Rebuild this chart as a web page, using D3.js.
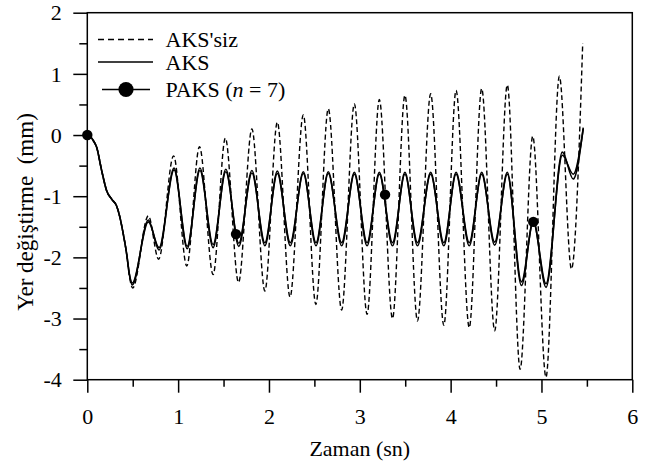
<!DOCTYPE html>
<html><head><meta charset="utf-8">
<script src="https://cdn.jsdelivr.net/npm/d3@7/dist/d3.min.js"></script>
<style>
body{margin:0;background:#fff}
svg{display:block}
</style>
</head><body>
<svg id="chart" width="656" height="462"></svg>
<script>
// ---- data (time in s, displacement in mm) ----
const aksizT = [0,0.03,0.066,0.103,0.158,0.213,0.269,0.323,0.36,0.39,0.434,0.463,0.50,0.672,0.785,0.95,1.095,1.235,1.385,1.52,1.665,1.812,1.955,2.092,2.232,2.378,2.516,2.653,2.80,2.94,3.08,3.215,3.36,3.497,3.635,3.78,3.925,4.06,4.205,4.342,4.485,4.624,4.765,4.904,5.05,5.197,5.33,5.454];
const aksizV = [0,-0.02,-0.09,-0.2,-0.58,-0.91,-1.05,-1.16,-1.35,-1.57,-1.95,-2.30,-2.50,-1.32,-2.03,-0.34,-2.14,-0.19,-2.28,-0.05,-2.41,0.10,-2.55,0.21,-2.65,0.33,-2.77,0.43,-2.86,0.51,-2.93,0.58,-3.0,0.65,-3.04,0.675,-3.11,0.73,-3.15,0.76,-3.20,0.82,-3.83,-0.02,-3.96,0.96,-2.19,1.50];

const aksT = [0,0.03,0.066,0.103,0.158,0.213,0.269,0.323,0.36,0.39,0.434,0.463,0.495,0.672,0.79,0.955,1.10,1.24,1.385,1.525,1.668,1.812,1.955,2.092,2.235,2.378,2.518,2.653,2.80,2.94,3.08,3.215,3.36,3.497,3.635,3.78,3.925,4.06,4.205,4.342,4.485,4.624,4.78,4.91,5.05,5.23,5.35,5.46];
const aksV = [0,-0.02,-0.09,-0.2,-0.58,-0.91,-1.05,-1.16,-1.35,-1.57,-1.95,-2.28,-2.45,-1.39,-1.88,-0.54,-1.86,-0.54,-1.84,-0.56,-1.82,-0.58,-1.81,-0.59,-1.81,-0.60,-1.81,-0.60,-1.81,-0.61,-1.81,-0.61,-1.81,-0.61,-1.81,-0.61,-1.81,-0.61,-1.81,-0.61,-1.80,-0.61,-2.46,-1.40,-2.49,-0.28,-0.72,0.12];

const paksT = aksT;
const paksV = [0,-0.02,-0.09,-0.2,-0.58,-0.91,-1.05,-1.16,-1.35,-1.57,-1.95,-2.27,-2.42,-1.42,-1.84,-0.57,-1.82,-0.58,-1.79,-0.60,-1.77,-0.62,-1.76,-0.63,-1.76,-0.63,-1.76,-0.63,-1.76,-0.64,-1.76,-0.64,-1.76,-0.64,-1.76,-0.64,-1.76,-0.64,-1.76,-0.64,-1.75,-0.64,-2.40,-1.42,-2.43,-0.33,-0.64,0.10];

const paksMarkT = [0, 1.637, 3.278, 4.91];
const paksMarkV = [0, -1.62, -0.975, -1.42];

const xTicks = [0,1,2,3,4,5,6];
const xMinor = [0.5,1.5,2.5,3.5,4.5,5.5];
const yTicks = [-4,-3,-2,-1,0,1,2];
const yMinor = [-3.5,-2.5,-1.5,-0.5,0.5,1.5];

const legendLabels = ["AKS'siz", "AKS", "PAKS"];

// ---- layout ----
const FONT = "'Liberation Serif', 'Times New Roman', Times, serif";
const L = 87.3, R = 632.3, T = 12.7, B = 379.7;
const svg = d3.select("#chart");
const x = d3.scaleLinear().domain([0,6]).range([L,R]);
const y = d3.scaleLinear().domain([-4,2]).range([B,T]);

const line = d3.line().x(d => x(d[0])).y(d => y(d[1])).curve(d3.curveMonotoneX);
const zip = (a,b) => a.map((t,i) => [t,b[i]]);

// curves
svg.append("path").attr("d", line(zip(aksizT, aksizV)))
  .attr("fill","none").attr("stroke","#000").attr("stroke-width",1.4).attr("stroke-dasharray","5,3");
svg.append("path").attr("d", line(zip(aksT, aksV)))
  .attr("fill","none").attr("stroke","#000").attr("stroke-width",1.6);
svg.append("path").attr("d", line(zip(paksT, paksV)))
  .attr("fill","none").attr("stroke","#000").attr("stroke-width",1.6);
svg.append("g").selectAll("circle").data(zip(paksMarkT, paksMarkV)).join("circle")
  .attr("cx", d => x(d[0])).attr("cy", d => y(d[1])).attr("r", 5.2).attr("fill","#000");

// frame
svg.append("rect").attr("x",L).attr("y",T).attr("width",R-L).attr("height",B-T)
  .attr("fill","none").attr("stroke","#000").attr("stroke-width",1.5);

// axes
const fs = 22;
const gx = svg.append("g").attr("transform",`translate(0,${B})`)
  .call(d3.axisBottom(x).tickValues(xTicks).tickSize(13).tickSizeOuter(0).tickFormat(d3.format("d")));
const gxm = svg.append("g").attr("transform",`translate(0,${B})`)
  .call(d3.axisBottom(x).tickValues(xMinor).tickSize(7).tickSizeOuter(0).tickFormat(""));
const gy = svg.append("g").attr("transform",`translate(${L},0)`)
  .call(d3.axisLeft(y).tickValues(yTicks).tickSize(14).tickSizeOuter(0).tickFormat(d3.format("d")));
const gym = svg.append("g").attr("transform",`translate(${L},0)`)
  .call(d3.axisLeft(y).tickValues(yMinor).tickSize(8).tickSizeOuter(0).tickFormat(""));
[gx,gxm,gy,gym].forEach(g => {
  g.attr("font-family", FONT);
  g.select(".domain").remove();
  g.selectAll("line").attr("stroke","#000").attr("stroke-width",1.5);
});
gx.selectAll("text").attr("font-size",fs).style("font-family",FONT).attr("fill","#000").attr("dy",null).attr("y",44);
gy.selectAll("text").attr("font-size",fs).style("font-family",FONT).attr("fill","#000").attr("dy","0.33em").attr("x",-25.5)
  .text(d => d < 0 ? "-" + Math.abs(d) : d);

// axis titles
svg.append("text").attr("x",(L+R)/2).attr("y",455.5).attr("text-anchor","middle")
  .style("font-family",FONT).attr("font-size",fs).text("Zaman (sn)");
svg.append("text").attr("transform",`translate(33,212) rotate(-90)`).attr("text-anchor","middle")
  .style("font-family",FONT).attr("font-size",23).style("white-space","pre").text("Yer değiştirme  (mm)");

// legend
const lg = svg.append("g");
lg.append("line").attr("x1",98).attr("x2",153).attr("y1",39.5).attr("y2",39.5)
  .attr("stroke","#000").attr("stroke-width",1.3).attr("stroke-dasharray","6,4");
lg.append("line").attr("x1",98).attr("x2",153).attr("y1",62).attr("y2",62)
  .attr("stroke","#000").attr("stroke-width",1.6);
lg.append("line").attr("x1",102).attr("x2",150).attr("y1",89.5).attr("y2",89.5)
  .attr("stroke","#000").attr("stroke-width",1.6);
lg.append("circle").attr("cx",126).attr("cy",89.5).attr("r",7.6).attr("fill","#000");
lg.append("text").attr("x",165.5).attr("y",46.5).style("font-family",FONT).attr("font-size",fs).text(legendLabels[0]);
lg.append("text").attr("x",165.5).attr("y",69.5).style("font-family",FONT).attr("font-size",fs).text(legendLabels[1]);
const t3 = lg.append("text").attr("x",165.5).attr("y",96.5).style("font-family",FONT).attr("font-size",fs);
t3.append("tspan").text(legendLabels[2] + " (");
t3.append("tspan").attr("font-style","italic").text("n");
t3.append("tspan").text(" = 7)");
</script>
</body></html>
